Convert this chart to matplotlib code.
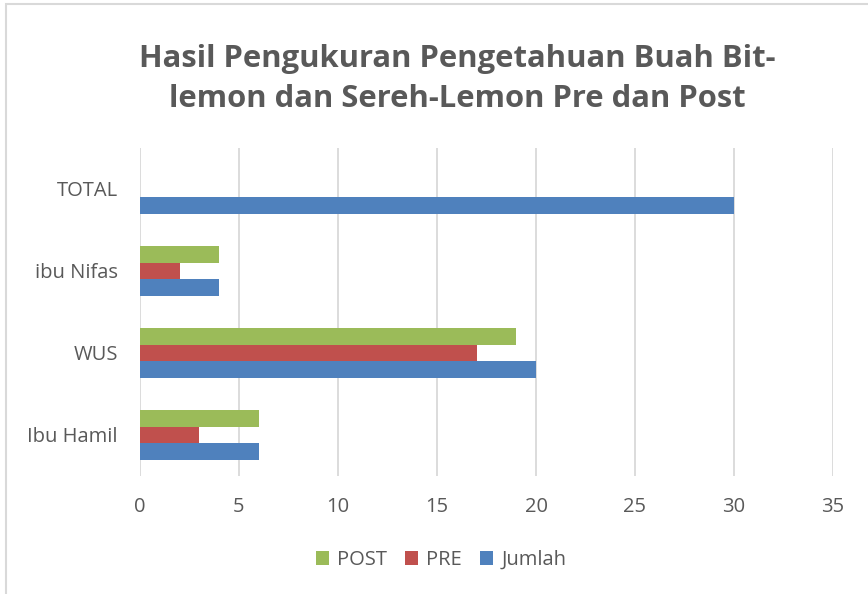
import matplotlib.pyplot as plt
import numpy as np
from matplotlib.patches import Rectangle

plt.rcParams['font.family'] = ['Open Sans', 'DejaVu Sans']

categories = ['Ibu Hamil', 'WUS', 'ibu Nifas', 'TOTAL']
jumlah = [6, 20, 4, 30]
pre = [3, 17, 2, 0]
post = [6, 19, 4, 0]

blue = '#4F81BD'
red = '#C0504D'
green = '#9BBB59'
txt = '#595959'

fig = plt.figure(figsize=(8.68, 5.94), dpi=100)
ax = fig.add_axes([140/868, 1-476/594, (833-140)/868, (476-148)/594])

y = np.arange(len(categories))
h = 0.204
ax.barh(y - h, jumlah, height=h, color=blue, label='Jumlah', zorder=3)
ax.barh(y, pre, height=h, color=red, label='PRE', zorder=3)
ax.barh(y + h, post, height=h, color=green, label='POST', zorder=3)

ax.set_xlim(0, 35)
ax.set_ylim(-0.5, 3.5)
ax.set_xticks(np.arange(0, 36, 5))
ax.set_yticks(y)
ax.set_yticklabels(categories)
ax.grid(axis='x', color='#D9D9D9', linewidth=1.3, zorder=0)
for s in ax.spines.values():
    s.set_visible(False)
ax.tick_params(axis='both', length=0, labelsize=14.5, labelcolor=txt)
ax.tick_params(axis='y', pad=16)
ax.tick_params(axis='x', pad=15)

fig.text(0.527, 1-79/594, 'Hasil Pengukuran Pengetahuan Buah Bit-\nlemon dan Sereh-Lemon Pre dan Post',
         ha='center', va='center', fontsize=22.3, fontweight='bold', color=txt,
         linespacing=1.47)

handles, labels = ax.get_legend_handles_labels()
fig.legend(handles[::-1], labels[::-1], loc='center', bbox_to_anchor=(0.508, 1-560/594),
           ncol=3, frameon=False, fontsize=14.5, labelcolor=txt,
           handlelength=0.65, handleheight=0.65, handletextpad=0.4, columnspacing=0.9)

fig.patches.append(Rectangle((6/868, -0.1), 1.2, 1-4/594+0.1, transform=fig.transFigure,
                             fill=False, edgecolor='#D9D9D9', linewidth=1.5))

fig.savefig('out.png', dpi=100)
